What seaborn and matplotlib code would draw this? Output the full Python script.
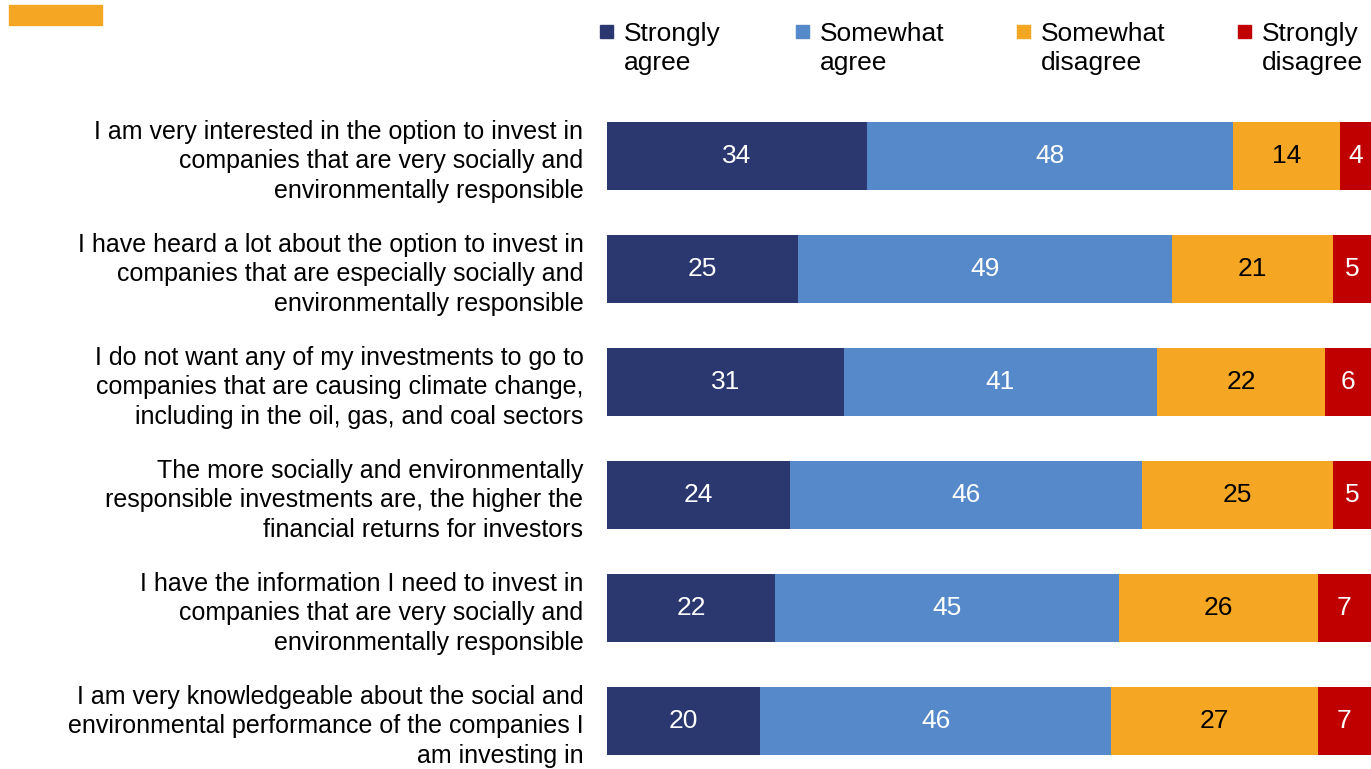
import matplotlib
matplotlib.use("Agg")
import matplotlib.pyplot as plt
from matplotlib.patches import Rectangle
from matplotlib import font_manager
import seaborn as sns
import pandas as pd
import numpy as np

statements = [
    "I am very interested in the option to invest in\ncompanies that are very socially and\nenvironmentally responsible",
    "I have heard a lot about the option to invest in\ncompanies that are especially socially and\nenvironmentally responsible",
    "I do not want any of my investments to go to\ncompanies that are causing climate change,\nincluding in the oil, gas, and coal sectors",
    "The more socially and environmentally\nresponsible investments are, the higher the\nfinancial returns for investors",
    "I have the information I need to invest in\ncompanies that are very socially and\nenvironmentally responsible",
    "I am very knowledgeable about the social and\nenvironmental performance of the companies I\nam investing in",
]
strongly_agree = [34, 25, 31, 24, 22, 20]
somewhat_agree = [48, 49, 41, 46, 45, 46]
somewhat_disagree = [14, 21, 22, 25, 26, 27]
strongly_disagree = [4, 5, 6, 5, 7, 7]

series_names = ["Strongly\nagree", "Somewhat\nagree", "Somewhat\ndisagree", "Strongly\ndisagree"]
colors = ["#2B3870", "#5689C9", "#F5A623", "#C00000"]
text_colors = ["white", "white", "black", "white"]

sns.set_theme(style="white")

# pick the regular (non-narrow) Liberation Sans face explicitly
reg_path = None
for f in font_manager.fontManager.ttflist:
    base = f.fname.split("/")[-1]
    if base == "LiberationSans-Regular.ttf":
        reg_path = f.fname
        break
if reg_path:
    fam = font_manager.FontProperties(fname=reg_path).get_name()
    plt.rcParams["font.family"] = [fam, "DejaVu Sans"]
else:
    plt.rcParams["font.family"] = ["Liberation Sans", "DejaVu Sans"]

FS_LABEL = 18
FS_VALUE = 19
FS_LEGEND = 19

W, H = 1371, 769
fig = plt.figure(figsize=(W / 100, H / 100), dpi=100)
fig.patch.set_facecolor("white")

# axes placed so the six rows sit at the right spacing
ax_left, ax_right = 607 / W, 1.0
ax_top_px, ax_bot_px = 99.5, 777.5
ax = fig.add_axes([ax_left, 1 - ax_bot_px / H, ax_right - ax_left, (ax_bot_px - ax_top_px) / H])

values = np.array([strongly_agree, somewhat_agree, somewhat_disagree, strongly_disagree])
cum = values.cumsum(axis=0)
df = pd.DataFrame({"statement": statements})
for i in range(4):
    df[f"cum{i}"] = cum[i]

# draw the stacked segments back to front (longest cumulative first)
for i in reversed(range(4)):
    sns.barplot(data=df, y="statement", x=f"cum{i}", color=colors[i], orient="h",
                width=0.6, ax=ax, saturation=1, edgecolor="none", linewidth=0)

for i in range(4):
    for j in range(len(statements)):
        v = values[i, j]
        x = cum[i, j] - v / 2
        ax.text(x, j, f"{v}", ha="center", va="center", color=text_colors[i], fontsize=FS_VALUE)

ax.set_xlim(0, 100)
ax.set_ylim(len(statements) - 0.5, -0.5)
ax.set_xlabel("")
ax.set_ylabel("")
ax.set_xticks([])
ax.tick_params(axis="y", length=0, pad=17, labelsize=FS_LABEL)
ax.set_yticks(range(len(statements)))
ax.set_yticklabels(statements, ha="right", linespacing=1.3, color="black")
for s in ax.spines.values():
    s.set_visible(False)

# legend: small square swatches with two-line labels
leg_x = [600, 796, 1017, 1238]
for i in range(4):
    fig.patches.append(Rectangle((leg_x[i] / W, 1 - 38 / H), 13 / W, 13 / H,
                                 transform=fig.transFigure, color=colors[i]))
    fig.text((leg_x[i] + 24) / W, 1 - 48.5 / H, series_names[i], ha="left", va="center",
             fontsize=FS_LEGEND, linespacing=1.3, color="black")

# orange accent block in the corner
fig.patches.append(Rectangle((9 / W, 1 - 25 / H), 93 / W, 20 / H,
                             transform=fig.transFigure, color="#F5A623"))

fig.savefig("out.png", dpi=100)
